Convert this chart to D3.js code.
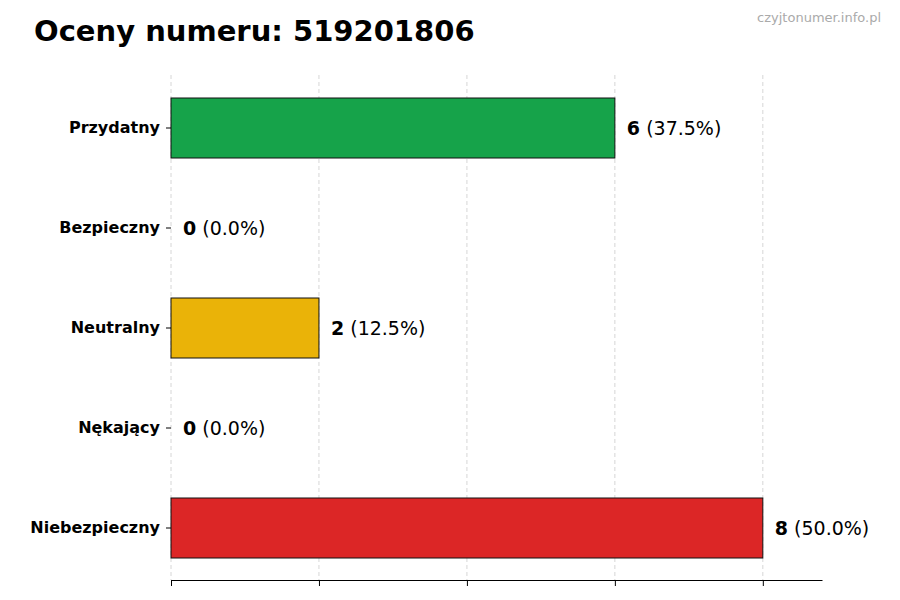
<!DOCTYPE html>
<html><head><meta charset="utf-8">
<script src="https://cdn.jsdelivr.net/npm/d3@7"></script>
<style>body{margin:0;background:#fff}text{font-family:"DejaVu Sans",sans-serif}</style>
</head><body><svg id="c" width="900" height="600"></svg>
<script>
const categories=["Przydatny","Bezpieczny","Neutralny","Nękający","Niebezpieczny"];
const values=[6,0,2,0,8];
const colors=["#16a34a","#16a34a","#eab308","#dc2626","#dc2626"];
const xTicks=[0,2,4,6,8];
const total=d3.sum(values);
const svg=d3.select("#c");
const x=d3.scaleLinear().domain([0,8.8]).range([171,822]);
const y=d3.scaleBand().domain(categories).range([78,578]).paddingInner(0.4).paddingOuter(0.2);
svg.append("text").attr("x",34).attr("y",41).attr("font-size",29).attr("font-weight","bold").text("Oceny numeru: 519201806");
svg.append("text").attr("x",881).attr("y",22).attr("text-anchor","end").attr("font-size",13).attr("fill","#aaa").text("czyjtonumer.info.pl");
svg.selectAll(".g").data(xTicks).enter().append("line").attr("x1",d=>x(d)).attr("x2",d=>x(d)).attr("y1",75).attr("y2",580).attr("stroke","#ccc").attr("stroke-dasharray","4,3").attr("stroke-width",0.8);
svg.selectAll(".b").data(values).enter().append("rect").attr("x",x(0)).attr("y",(d,i)=>y(categories[i])).attr("width",d=>x(d)-x(0)).attr("height",y.bandwidth()).attr("fill",(d,i)=>colors[i]).attr("stroke","#111").attr("stroke-width",1);
const lab=svg.selectAll(".l").data(values).enter().append("text").attr("x",d=>x(d)+12).attr("y",(d,i)=>y(categories[i])+y.bandwidth()/2+7).attr("font-size",19);
lab.append("tspan").attr("font-weight","bold").text(d=>d);
lab.append("tspan").text(d=>" ("+(d/total*100).toFixed(1)+"%)");
const xa=svg.append("g").attr("transform","translate(0,580)").call(d3.axisBottom(x).tickValues(xTicks).tickFormat("").tickSize(6).tickSizeOuter(0));
xa.select(".domain").attr("stroke","#000");
const ya=svg.append("g").attr("transform","translate(171,0)").call(d3.axisLeft(y).tickSize(5).tickPadding(6));
ya.select(".domain").remove();
ya.selectAll("text").attr("font-size",16).attr("font-weight","bold").attr("fill","#000").style("font-family","DejaVu Sans");
</script></body></html>
